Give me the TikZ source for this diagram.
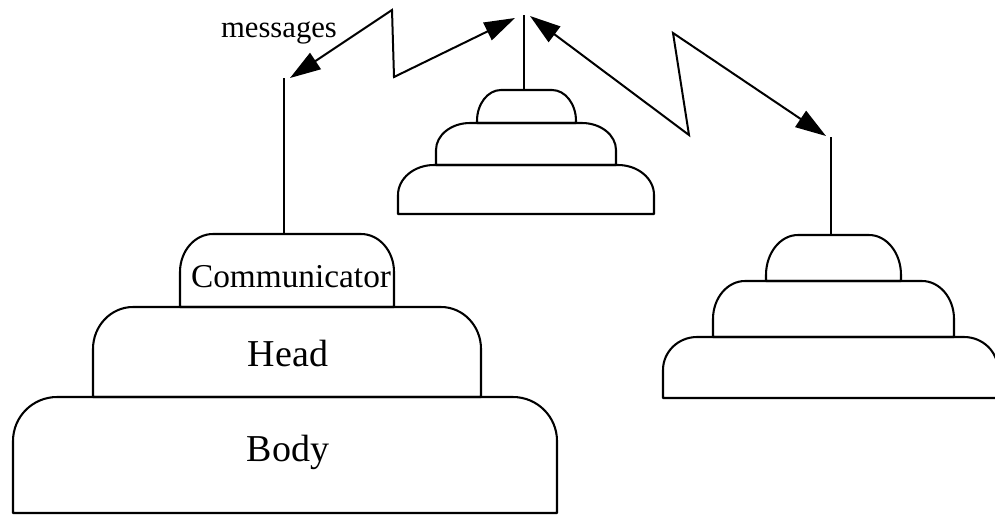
\documentclass[tikz,border=0pt]{standalone}
\usepackage{fontspec}
\setmainfont{Liberation Serif}
\usetikzlibrary{arrows.meta,calc}

% One tier of an agent: flat base, straight sides, rounded (elliptic) top corners.
% #1 left x, #2 right x, #3 top y, #4 bottom y, #5 corner x-radius, #6 corner y-radius
\newcommand{\agenttier}[6]{%
  \draw[tierline] (#1,#4) -- (#1,#3+#6)
    .. controls (#1,#3+0.448*#6) and (#1+0.448*#5,#3) .. (#1+#5,#3)
    -- (#2-#5,#3)
    .. controls (#2-0.448*#5,#3) and (#2,#3+0.448*#6) .. (#2,#3+#6)
    -- (#2,#4) -- cycle;}

\tikzset{
  tierline/.style={line width=1.55pt, line join=round},
  antenna/.style={line width=1.45pt},
  msgarrow/.style={line width=1.5pt, line join=miter,
    {Triangle[length=23pt,width=14.5pt]}-{Triangle[length=23pt,width=14.5pt]}},
  bigtext/.style={inner sep=0pt, anchor=base, font=\fontsize{28.5}{33}\selectfont},
  commtext/.style={inner sep=0pt, anchor=base, font=\fontsize{25}{30}\selectfont},
  msgtext/.style={inner sep=0pt, anchor=base, font=\fontsize{23}{28}\selectfont},
}

\begin{document}
\begin{tikzpicture}[x=0.75pt, y=-0.75pt]
  \useasboundingbox (0,0) rectangle (995,515);
  \fill[white] (0,0) rectangle (995,515);
  \clip (0,0) rectangle (995,515);

  % ---- left agent: body, head, communicator ----
  \agenttier{13}{557}{397}{513}{44}{44}
  \agenttier{93}{481}{307}{397}{40}{42}
  \agenttier{180}{394}{234}{307}{33}{38}
  \node[bigtext]  (body) at (288,461) {Body};
  \node[bigtext]  (head) at (288,366) {Head};
  \node[commtext] (comm) at (291,287) {Communicator};
  \coordinate (lbase) at (284,234);
  \coordinate (ltop)  at (284,78);
  \draw[antenna] (lbase) -- (ltop);

  % ---- middle agent ----
  \agenttier{398}{654}{165}{214}{36}{30}
  \agenttier{436}{616}{123}{165}{34}{27}
  \agenttier{477}{576}{90}{123}{24}{31}
  \coordinate (mbase) at (524,90);
  \coordinate (mtop)  at (524,15);
  \draw[antenna] (mbase) -- (mtop);

  % ---- right agent (base runs off the right edge) ----
  \agenttier{663}{998}{337}{398}{34}{33}
  \agenttier{713}{954}{281}{337}{32}{38}
  \agenttier{766}{901}{235}{281}{32}{40}
  \coordinate (rbase) at (831,235);
  \coordinate (rtop)  at (831,137);
  \draw[antenna] (rbase) -- (rtop);

  % ---- message links between the antennas ----
  \coordinate (aL) at ($(ltop)+(6,0)$);
  \coordinate (aM) at ($(mtop)+(-9,3)$);
  \coordinate (bM) at ($(mtop)+(6,1)$);
  \coordinate (bR) at ($(rtop)+(-5,-1)$);
  \coordinate (zA1) at (392,10);
  \coordinate (zA2) at (394,77);
  \coordinate (zB1) at (689,135);
  \coordinate (zB2) at (673,33);
  \draw[msgarrow] (aL) -- (zA1) -- (zA2) -- (aM);
  \draw[msgarrow] (bM) -- (zB1) -- (zB2) -- (bR);

  \node[msgtext] (msg) at (279,37) {messages};
\end{tikzpicture}
\end{document}
